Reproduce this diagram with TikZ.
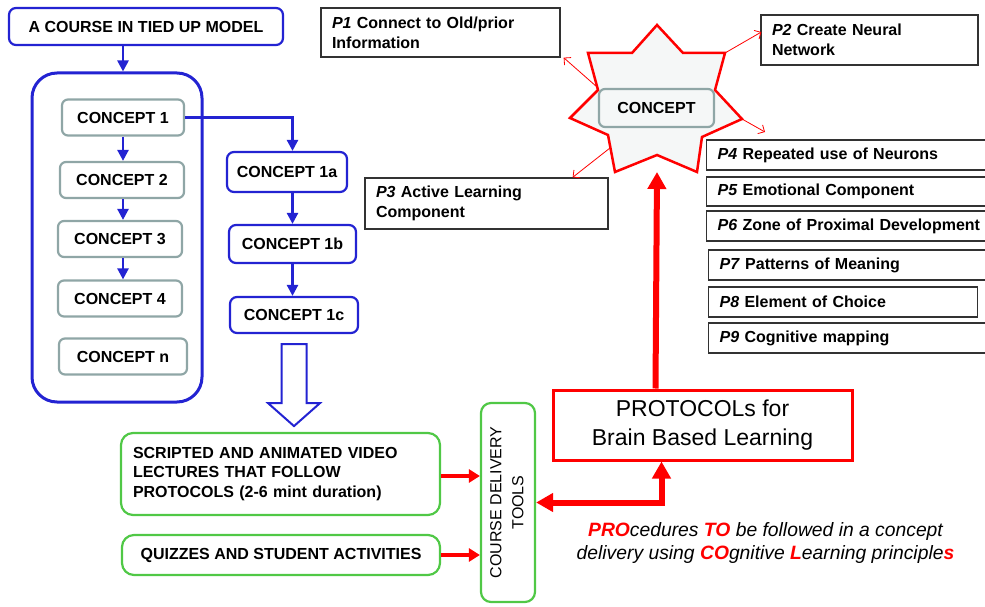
\documentclass[tikz,border=0pt]{standalone}
\usepackage{fontspec}
\setmainfont{Liberation Sans}
\usepackage{graphicx}
\usepackage{tikz}
\usetikzlibrary{arrows.meta,calc}

\definecolor{tiedblue}{RGB}{35,35,210}
\definecolor{conceptgray}{RGB}{143,166,166}
\definecolor{toolgreen}{RGB}{80,200,70}
\definecolor{pframe}{RGB}{50,50,50}
\definecolor{starfill}{RGB}{245,247,247}

\tikzset{
  bluebox/.style={draw=tiedblue, line width=2.2pt, rounded corners=7pt, fill=white},
  graybox/.style={draw=conceptgray, line width=2.2pt, rounded corners=6pt, fill=white, minimum height=36pt},
  greenbox/.style={draw=toolgreen, line width=2.2pt, rounded corners=12pt},
  pbox/.style={draw=pframe, line width=1.3pt, align=left, inner xsep=11pt},
  bluearrow/.style={draw=tiedblue, line width=2.5pt, -{Triangle[length=11pt,width=11pt]}},
  redarrow/.style={draw=red, line width=3.5pt, -{Triangle[length=11pt,width=13pt]}},
  thinarrow/.style={draw=red, line width=0.8pt, -{Straight Barb[length=5pt,width=10pt]}},
  bigred/.style={draw=red, line width=6pt},
}

\begin{document}
\begin{tikzpicture}[x=1pt, y=-1pt, font=\fontsize{16}{20}\selectfont\bfseries]
  \useasboundingbox (0,0) rectangle (985,607);
  % Course outline
  \node[bluebox, minimum width=274pt, minimum height=37pt] (course) at (146,26.5) {A COURSE IN TIED UP MODEL};
  \node[draw=tiedblue, line width=3pt, rounded corners=25pt, minimum width=170pt, minimum height=329pt] (frame) at (117,237.5) {};
  \node[graybox, minimum width=122pt] (c1) at (123,117.5) {CONCEPT 1};
  \node[graybox, minimum width=124pt] (c2) at (122,180) {CONCEPT 2};
  \node[graybox, minimum width=124pt] (c3) at (120,239) {CONCEPT 3};
  \node[graybox, minimum width=124pt] (c4) at (120,298.5) {CONCEPT 4};
  \node[graybox, minimum width=128pt] (cn) at (123,356.5) {CONCEPT n};
  % Sub concepts
  \node[bluebox, minimum width=120pt, minimum height=40pt] (c1a) at (287,172) {CONCEPT 1a};
  \node[bluebox, minimum width=127pt, minimum height=38pt] (c1b) at (292.5,244) {CONCEPT 1b};
  \node[bluebox, minimum width=128pt, minimum height=36pt] (c1c) at (294,315) {CONCEPT 1c};
  % Blue arrows
  \draw[bluearrow] (c1.north |- course.south) -- (c1.north |- frame.north);
  \draw[bluearrow] (c1.south) -- (c1.south |- c2.north);
  \draw[bluearrow] (c1.south |- c2.south) -- (c1.south |- c3.north);
  \draw[bluearrow] (c1.south |- c3.south) -- (c1.south |- c4.north);
  \draw[bluearrow] (c1.east) -| (c1b.north |- c1a.north);
  \draw[bluearrow] (c1b.north |- c1a.south) -- (c1b.north);
  \draw[bluearrow] (c1b.south) -- (c1b.south |- c1c.north);
  \draw[draw=tiedblue, line width=2pt, fill=white, shift={(c1c.south)}]
    (-12.5,10) -- (-12.5,69) -- (-26,69) -- (0,92) -- (26,69) -- (12.5,69) -- (12.5,10) -- cycle;
  % Delivery
  \node[greenbox, minimum width=319pt, minimum height=82pt, text width=295pt, inner xsep=12pt, align=left,
        font=\fontsize{16}{19.5}\selectfont\bfseries] (video) at (280.5,474)
    {SCRIPTED AND ANIMATED VIDEO\\LECTURES THAT FOLLOW\\PROTOCOLS (2-6 mint duration)};
  \node[greenbox, minimum width=318pt, minimum height=40pt] (quiz) at (281,555) {QUIZZES AND STUDENT ACTIVITIES};
  \node[greenbox, rounded corners=10pt, minimum width=54pt, minimum height=199pt, inner sep=0pt,
        font=\fontsize{16}{22}\selectfont\mdseries] (tools) at (508,502.5)
    {\rotatebox{90}{\begin{tabular}{@{}c@{}}COURSE DELIVERY\\TOOLS\end{tabular}}};
  \draw[redarrow] (video.east |- 0,476) -- (tools.west |- 0,476);
  \draw[redarrow] (quiz.east) -- (tools.west |- quiz.east);
  % Protocols
  \node[draw=red, line width=3pt, minimum width=299pt, minimum height=70pt, align=center,
        font=\fontsize{23}{29}\selectfont\mdseries] (proto) at (702.5,425) {PROTOCOLs for\\Brain Based Learning};
  \draw[bigred, {Triangle[length=17pt,width=18pt]}-{Triangle[length=17pt,width=18pt]}]
    (tools.east) -| ($(proto.south west)+(110,0)$);
  \node[font=\fontsize{19.3}{22.5}\selectfont\mdseries\itshape, align=center] (acronym) at (765.5,543)
    {\textcolor{red}{\bfseries PRO}cedures \textcolor{red}{\bfseries TO} be followed in a concept\\
     delivery using \textcolor{red}{\bfseries CO}gnitive \textcolor{red}{\bfseries L}earning principle\textcolor{red}{\bfseries s}};
  % Principles
  \node[pbox, text width=217pt, minimum height=49pt] (p1) at (440.5,32.5) {\textit{P1} Connect to Old/prior\\Information};
  \node[pbox, text width=195pt, minimum height=50pt] (p2) at (869.5,40) {\textit{P2} Create Neural\\Network};
  \node[pbox, text width=221pt, minimum height=51pt] (p3) at (486.5,203.5) {\textit{P3} Active Learning\\Component};
  \node[pbox, anchor=west, text width=290pt, minimum height=30pt] (p4) at (706,155) {\textit{P4} Repeated use of Neurons};
  \node[pbox, anchor=west, text width=290pt, minimum height=29pt] (p5) at (706,191.5) {\textit{P5} Emotional Component};
  \node[pbox, anchor=west, text width=290pt, minimum height=30pt] (p6) at (706,226) {\textit{P6} Zone of Proximal Development};
  \node[pbox, anchor=west, text width=290pt, minimum height=30pt] (p7) at (708,265) {\textit{P7} Patterns of Meaning};
  \node[pbox, anchor=west, text width=247pt, minimum height=30pt] (p8) at (708,302) {\textit{P8} Element of Choice};
  \node[pbox, anchor=west, text width=290pt, minimum height=30pt] (p9) at (708,338) {\textit{P9} Cognitive mapping};
  % Concept star
  \draw[red, line width=2.5pt, fill=starfill, line join=miter]
    (657,25) -- (683,53) -- (725,53) -- (715,90) -- (742,119) -- (702,137) -- (697,172) -- (657,155)
    -- (615,172) -- (608,135) -- (570,118) -- (598,90) -- (588,53) -- (632,53) -- cycle;
  \node[graybox, minimum width=115pt, minimum height=38pt, fill=starfill] (concept) at (656.5,108) {CONCEPT};
  \coordinate (s1) at (597,87);
  \coordinate (s2) at (725,53);
  \coordinate (s3) at (742,119);
  \coordinate (s4) at (610,148);
  \coordinate (free) at (765,132);
  \coordinate (foot) at (657,172);
  \draw[thinarrow] (s1) -- ($(p1.south east)+(3,0)$);
  \draw[thinarrow] (s2) -- ($(p2.west)+(1,-8)$);
  \draw[thinarrow] (s3) -- (free);
  \draw[thinarrow] (s4) -- ($(p3.north east)+(-36,0)$);
  \draw[bigred, -{Triangle[length=17pt,width=18pt]}] ($(proto.north west)+(104,0)$) -- (foot);
\end{tikzpicture}
\end{document}
